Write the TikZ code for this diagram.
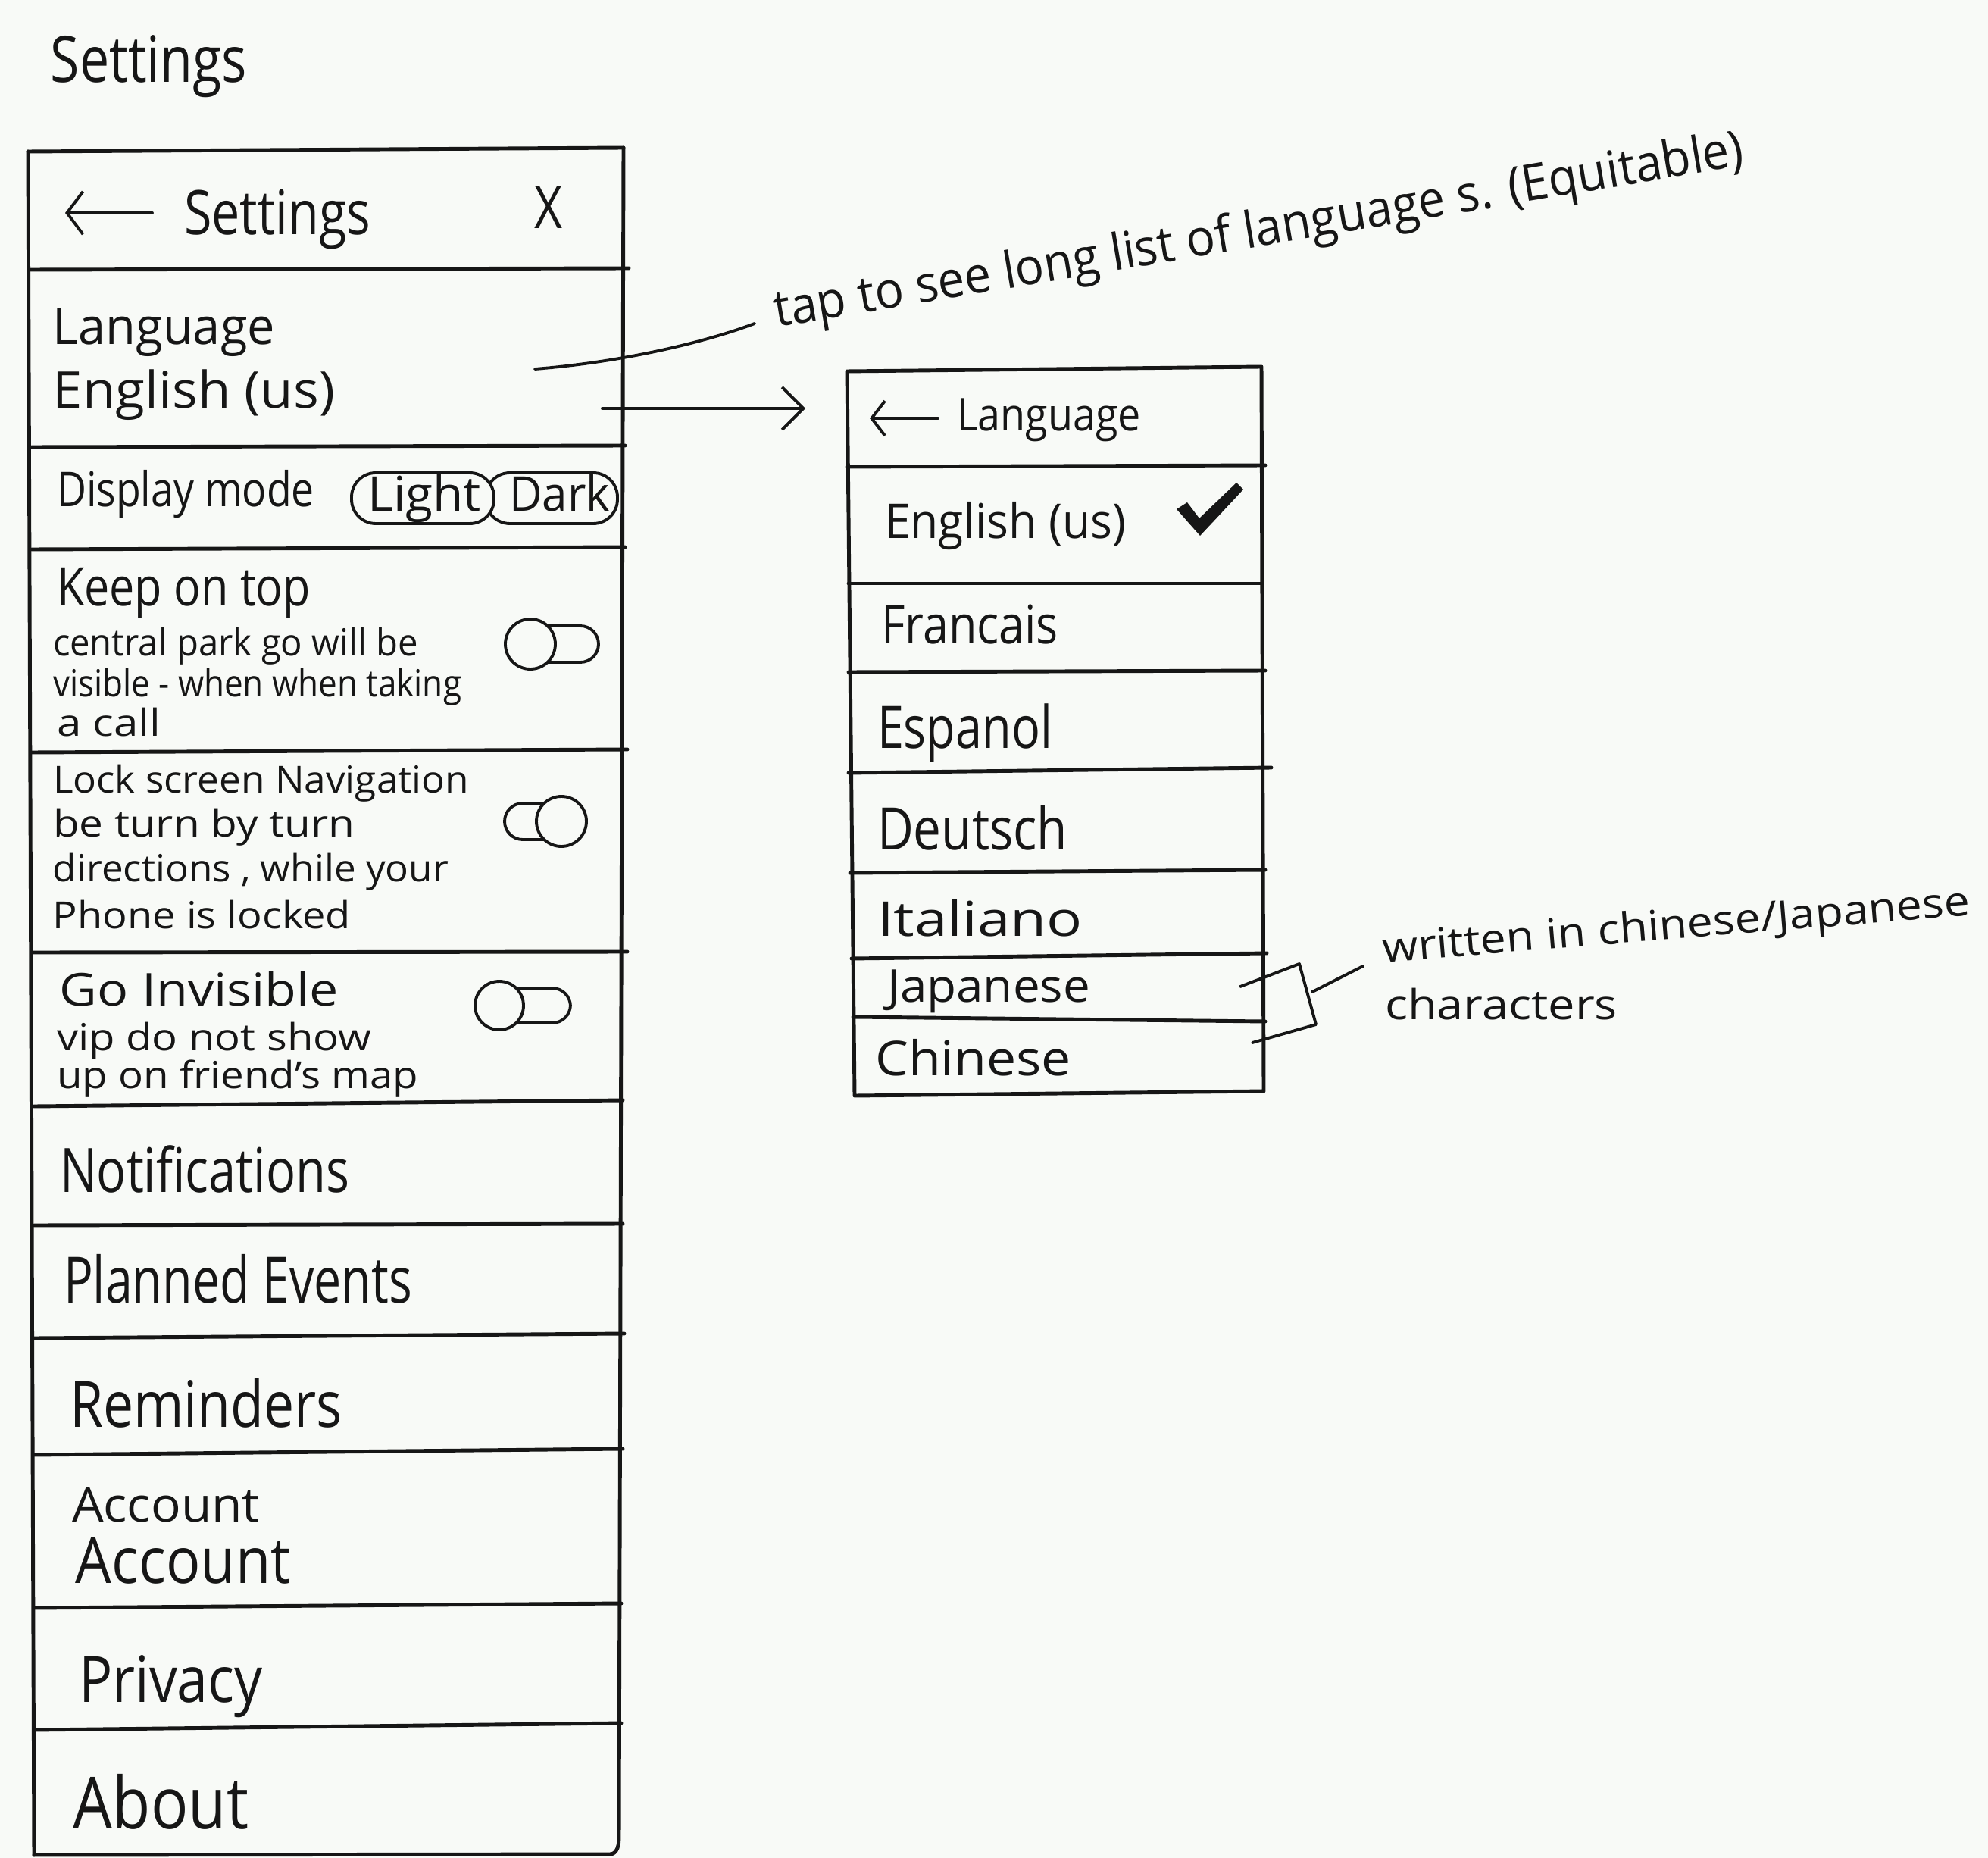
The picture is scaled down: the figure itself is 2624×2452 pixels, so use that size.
\documentclass[tikz,border=0pt]{standalone}
\usepackage{fontspec}
\setmainfont{Open Sans}
\usepackage{graphicx}
\usetikzlibrary{arrows.meta}
\definecolor{paper}{RGB}{248,250,247}
\definecolor{ink}{RGB}{22,22,22}
% horizontal-only scaling of a label to a given width (in drawing units)
\newdimen\hwunit \hwunit=0.01cm
\newcommand\hw[2]{\resizebox{#1\hwunit}{\height}{#2}}
\begin{document}
\begin{tikzpicture}[x=0.01cm, y=-0.01cm,
  pen/.style={draw=ink, line width=1.4pt, line cap=round, line join=round},
  thinpen/.style={draw=ink, line width=1.1pt, line cap=round, line join=round},
  lbl/.style={inner sep=0pt, outer sep=0pt, anchor=base west, text=ink},
  sz/.style={font=\fontsize{#1}{#1}\selectfont},
  barb/.style={-{Straight Barb[length=6pt, width=16pt, line width=1.1pt]}},
  track/.style={thinpen, rounded corners=0.24cm},
  knob/.style={thinpen, fill=paper},
]
\fill[paper] (0,0) rectangle (2624,2452);
\useasboundingbox (0,0) rectangle (2624,2452);

% ---------- page title ----------
\node[lbl, sz=24] (title) at (67,109) {\hw{259}{Settings}};

% ---------- settings panel: frame and row dividers ----------
\draw[pen] (37,200) -- (823,195);
\draw[pen] (37,200) -- (45,2448);
\draw[pen] (823,195) -- (817,2425) to[out=-90,in=0] (805,2447) -- (45,2448);
\draw[pen] (40,356) -- (830,354);
\draw[pen] (42,590) -- (825,588);
\draw[pen] (42,725) -- (825,722);
\draw[pen] (42,993) -- (828,989);
\draw[pen] (44,1257) -- (828,1256);
\draw[pen] (45,1460) -- (822,1452);
\draw[pen] (45,1617) -- (822,1615);
\draw[pen] (45,1766) -- (824,1760);
\draw[pen] (45,1920) -- (822,1912);
\draw[pen] (45,2122) -- (820,2116);
\draw[pen] (45,2283) -- (820,2274);

% header
\coordinate (backA) at (201,281);
\coordinate (backB) at (86,281);
\draw[thinpen, barb] (backA) -- (backB);
\node[lbl, sz=23] (hdr) at (243,310) {\hw{246}{Settings}};
\node[lbl, sz=22] (close) at (705,302) {\hw{37}{X}};

% language row
\node[lbl, sz=19] (lang) at (70,455) {\hw{293}{Language}};
\node[lbl, sz=19] (langval) at (70,539) {\hw{372}{English (us)}};

% display mode row
\node[lbl, sz=18] (disp) at (75,669) {\hw{340}{Display mode}};
\draw[thinpen, rounded corners=0.32cm] (641,624) rectangle (815,691);
\draw[thinpen, rounded corners=0.32cm, fill=paper] (464,624) rectangle (652,691);
\node[lbl, sz=18] (light) at (485,675) {\hw{150}{Light}};
\node[lbl, sz=18] (dark) at (672,675) {\hw{133}{Dark}};

% keep on top row
\node[lbl, sz=20] (keep) at (75,800) {\hw{335}{Keep on top}};
\node[lbl, sz=14] (keep1) at (70,865) {\hw{482}{central park go will be}};
\node[lbl, sz=14] (keep2) at (70,919) {\hw{539}{visible - when when taking}};
\node[lbl, sz=14] (keep3) at (75,971) {\hw{137}{a call}};
\draw[track] (680,826) rectangle (790,874);
\draw[knob] (700,850) circle[radius=33];

% lock screen navigation row
\node[lbl, sz=14] (lock) at (70,1046) {\hw{549}{Lock screen Navigation}};
\node[lbl, sz=14] (lock1) at (70,1104) {\hw{398}{be turn by turn}};
\node[lbl, sz=14] (lock2) at (70,1163) {\hw{522}{directions , while your}};
\node[lbl, sz=14] (lock3) at (70,1225) {\hw{393}{Phone is locked}};
\draw[track] (666,1060) rectangle (760,1108);
\draw[knob] (741,1084) circle[radius=33];

% go invisible row
\node[lbl, sz=17] (invis) at (79,1327) {\hw{368}{Go Invisible}};
\node[lbl, sz=14] (invis1) at (75,1386) {\hw{415}{vip do not show}};
\node[lbl, sz=14] (invis2) at (75,1436) {\hw{477}{up on friend's map}};
\draw[track] (640,1304) rectangle (753,1350);
\draw[knob] (659,1327) circle[radius=32];

% plain rows
\node[lbl, sz=23] (notif) at (79,1573) {\hw{382}{Notifications}};
\node[lbl, sz=24] (events) at (84,1719) {\hw{460}{Planned Events}};
\node[lbl, sz=24] (remind) at (92,1883) {\hw{360}{Reminders}};
\node[lbl, sz=18] (acct1) at (95,2008) {\hw{248}{Account}};
\node[lbl, sz=24] (acct2) at (100,2089) {\hw{284}{Account}};
\node[lbl, sz=24] (privacy) at (104,2246) {\hw{243}{Privacy}};
\node[lbl, sz=27] (about) at (97,2413) {\hw{231}{About}};

% ---------- language panel ----------
\draw[pen] (1118,490) -- (1665,484) -- (1668,1440) -- (1128,1446) -- cycle;
\draw[pen] (1118,616) -- (1670,614);
\draw[pen] (1120,770) -- (1665,770);
\draw[pen] (1120,887) -- (1670,885);
\draw[pen] (1120,1020) -- (1678,1013);
\draw[pen] (1122,1152) -- (1670,1148);
\draw[pen] (1124,1265) -- (1672,1258);
\draw[pen] (1126,1342) -- (1670,1348);

\coordinate (lbackA) at (1238,552);
\coordinate (lbackB) at (1148,552);
\draw[thinpen, -{Straight Barb[length=5pt, width=13pt, line width=1.1pt]}] (lbackA) -- (lbackB);
\node[lbl, sz=17] (lhdr) at (1263,569) {\hw{243}{Language}};
\node[lbl, sz=18] (en) at (1168,711) {\hw{318}{English (us)}};
\fill[ink] (1553,672) -- (1567,663) -- (1583,684) -- (1632,637) -- (1641,646) -- (1584,707) -- cycle;
\node[lbl, sz=20] (fr) at (1163,850) {\hw{234}{Francais}};
\node[lbl, sz=22] (es) at (1158,987) {\hw{231}{Espanol}};
\node[lbl, sz=22] (de) at (1158,1121) {\hw{251}{Deutsch}};
\node[lbl, sz=18] (it) at (1158,1235) {\hw{271}{Italiano}};
\node[lbl, sz=17] (ja) at (1171,1322) {\hw{268}{Japanese}};
\node[lbl, sz=18] (zh) at (1155,1419) {\hw{259}{Chinese}};

% ---------- annotations ----------
\coordinate (tapS) at (706,487);
\coordinate (tapE) at (996,427);
\draw[thinpen] (tapS) .. controls (820,478) and (930,452) .. (tapE);
\node[lbl, sz=19, rotate=9.5] (tapnote) at (1025,432) {\hw{1297}{tap to see long list of language s. (Equitable)}};

\coordinate (goS) at (795,539);
\coordinate (goE) at (1063,539);
\draw[thinpen, -{Straight Barb[length=8pt, width=16pt, line width=1.1pt]}] (goS) -- (goE);

\coordinate (brA) at (1637,1302);
\coordinate (brB) at (1715,1272);
\coordinate (brC) at (1737,1352);
\coordinate (brD) at (1653,1376);
\coordinate (brT) at (1732,1309);
\coordinate (brU) at (1799,1275);
\draw[thinpen] (brA) -- (brB) -- (brC) -- (brD);
\draw[thinpen] (brT) -- (brU);
\node[lbl, sz=15.5, rotate=4.6] (cjk1) at (1826,1270) {\hw{778}{written in chinese/Japanese}};
\node[lbl, sz=15.5] (cjk2) at (1828,1345) {\hw{307}{characters}};
\end{tikzpicture}
\end{document}
